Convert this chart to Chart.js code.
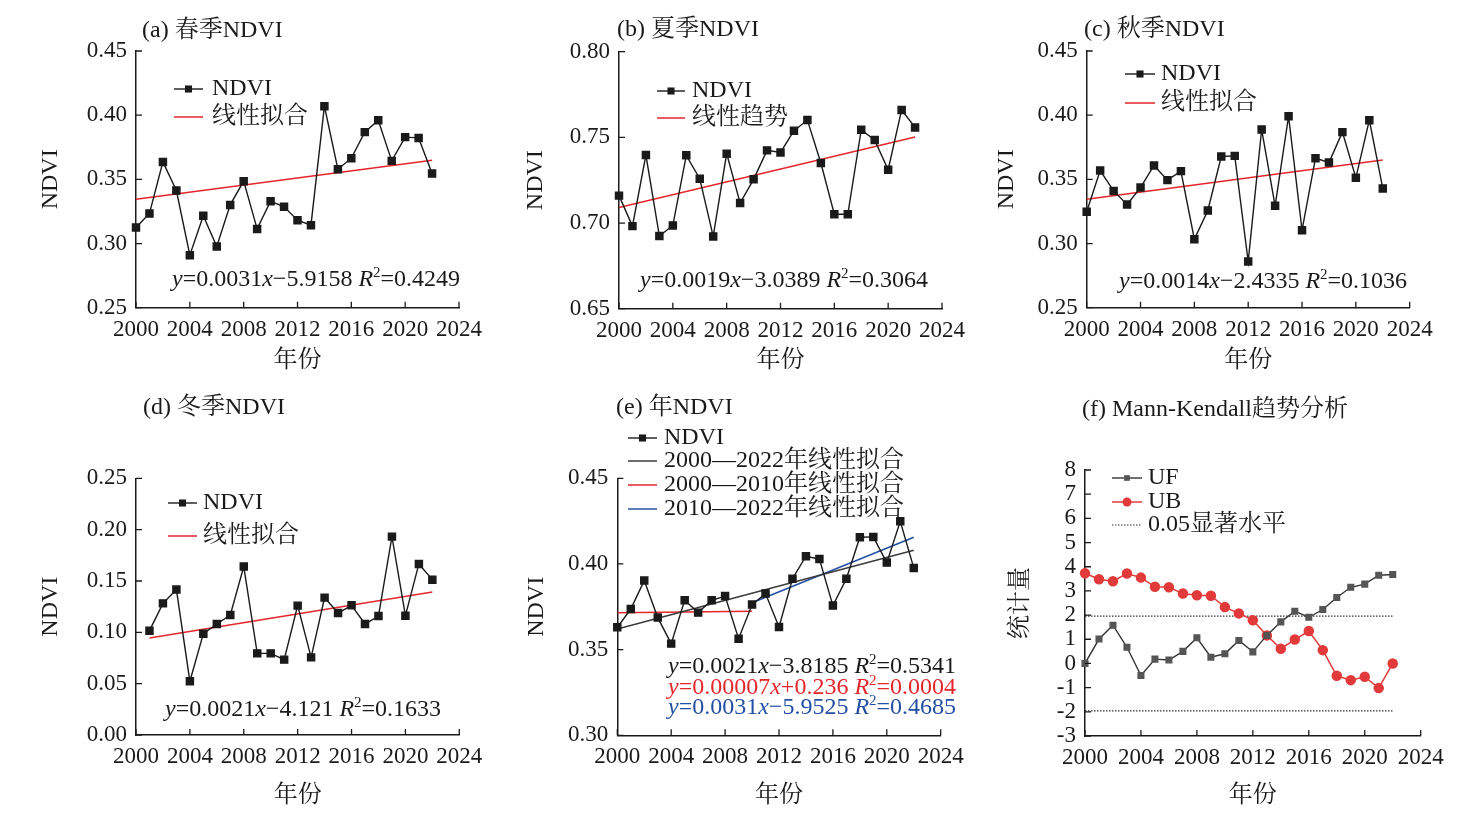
<!DOCTYPE html>
<html>
<head>
<meta charset="utf-8">
<script src="https://cdn.jsdelivr.net/npm/chart.js@4.4.1/dist/chart.umd.min.js"></script>
<style>
  body { margin: 0; background: #fff; width: 1473px; height: 832px; position: relative; overflow: hidden; }
  .cell { position: absolute; }
</style>
</head>
<body>
<div class="cell" style="left:0px;top:0px;width:490px;height:390px"><canvas id="chartSpring"></canvas></div>
<div class="cell" style="left:490px;top:0px;width:485px;height:390px"><canvas id="chartSummer"></canvas></div>
<div class="cell" style="left:975px;top:0px;width:498px;height:390px"><canvas id="chartAutumn"></canvas></div>
<div class="cell" style="left:0px;top:390px;width:490px;height:442px"><canvas id="chartWinter"></canvas></div>
<div class="cell" style="left:490px;top:390px;width:485px;height:442px"><canvas id="chartAnnual"></canvas></div>
<div class="cell" style="left:975px;top:390px;width:498px;height:442px"><canvas id="chartMK"></canvas></div>
<script>
// dados
const years = [2000, 2001, 2002, 2003, 2004, 2005, 2006, 2007, 2008, 2009, 2010, 2011,
               2012, 2013, 2014, 2015, 2016, 2017, 2018, 2019, 2020, 2021, 2022];
const yearsWinter = [2001, 2002, 2003, 2004, 2005, 2006, 2007, 2008, 2009, 2010, 2011,
                     2012, 2013, 2014, 2015, 2016, 2017, 2018, 2019, 2020, 2021, 2022];
const xTicks = [2000, 2004, 2008, 2012, 2016, 2020, 2024];

const ndviSpring = [0.3125, 0.3234, 0.3636, 0.3413, 0.2909, 0.3216, 0.2977, 0.3301, 0.3486, 0.3114, 0.3330, 0.3286,
                    0.3182, 0.3143, 0.4070, 0.3579, 0.3665, 0.3868, 0.3961, 0.3644, 0.3829, 0.3823, 0.3545];
const ndviSummer = [0.7160, 0.6982, 0.7397, 0.6924, 0.6986, 0.7395, 0.7259, 0.6922, 0.7405, 0.7117, 0.7255, 0.7424,
                    0.7412, 0.7539, 0.7601, 0.7350, 0.7051, 0.7051, 0.7545, 0.7484, 0.7311, 0.7660, 0.7558];
const ndviAutumn = [0.3247, 0.3569, 0.3410, 0.3304, 0.3436, 0.3608, 0.3494, 0.3564, 0.3034, 0.3257, 0.3678, 0.3683,
                    0.2860, 0.3888, 0.3294, 0.3992, 0.3104, 0.3665, 0.3631, 0.3868, 0.3512, 0.3961, 0.3429];
const ndviWinter = [0.1016, 0.1282, 0.1416, 0.0523, 0.0987, 0.1081, 0.1169, 0.1640, 0.0795, 0.0795, 0.0734,
                    0.1260, 0.0756, 0.1338, 0.1188, 0.1263, 0.1081, 0.1159, 0.1932, 0.1162, 0.1666, 0.1513];
const ndviAnnual = [0.3630, 0.3737, 0.3903, 0.3687, 0.3535, 0.3788, 0.3716, 0.3788, 0.3813, 0.3564, 0.3763, 0.3827,
                    0.3632, 0.3914, 0.4045, 0.4029, 0.3757, 0.3914, 0.4156, 0.4158, 0.4008, 0.4249, 0.3977];
const mkUF = [0, 1.01, 1.58, 0.67, -0.50, 0.18, 0.14, 0.50, 1.06, 0.26, 0.40, 0.95,
              0.48, 1.16, 1.72, 2.16, 1.91, 2.23, 2.73, 3.15, 3.28, 3.65, 3.68];
const mkUB = [3.73, 3.48, 3.40, 3.72, 3.55, 3.17, 3.15, 2.89, 2.82, 2.80, 2.33, 2.07,
              1.79, 1.16, 0.61, 0.99, 1.34, 0.55, -0.51, -0.69, -0.55, -1.02, 0];

// retas de ajuste (extremos)
const fitSpringX = [2000, 2022], fitSpringY = [0.3345, 0.3649];
const fitSummerX = [2000, 2022], fitSummerY = [0.7091, 0.7502];
const fitAutumnX = [2000, 2022], fitAutumnY = [0.3345, 0.3650];
const fitWinterX = [2001, 2022], fitWinterY = [0.0945, 0.1393];
const fitAllX = [2000, 2022], fitAllY = [0.3621, 0.4080];
const fitEarlyX = [2000, 2010], fitEarlyY = [0.3716, 0.3724];
const fitLateX = [2010, 2022], fitLateY = [0.3774, 0.4156];
const sigX = [2000, 2022], sigUp = [1.96, 1.96], sigDown = [-1.96, -1.96];

const yTicksSpring = [0.25, 0.30, 0.35, 0.40, 0.45];
const yTicksSummer = [0.65, 0.70, 0.75, 0.80];
const yTicksWinter = [0.00, 0.05, 0.10, 0.15, 0.20, 0.25];
const yTicksAnnual = [0.30, 0.35, 0.40, 0.45];
const yTicksMK = [-3, -2, -1, 0, 1, 2, 3, 4, 5, 6, 7, 8];

const FONT = "'Liberation Serif', 'Noto Serif CJK SC', 'Noto Sans CJK SC', serif";
const INK = '#1a1a1a';
const RED = '#e5262b';
const BLUE = '#2350a3';
const TXT = 24;
Chart.defaults.font.family = FONT;
Chart.defaults.color = INK;

function pts(xs, ys) {
    return xs.map((x, i) => ({ x: x, y: ys[i] }));
}

function eqParts(a, b, r2) {
    return [['y', 'i'], ['=' + a, 'n'], ['x', 'i'], [b + ' ', 'n'], ['R', 'i'], ['2', 's'], ['=' + r2, 'n']];
}

function ndviSerie(xs, ys) {
    return { label: 'NDVI', data: pts(xs, ys), borderColor: INK, borderWidth: 1.4,
             pointStyle: 'rect', pointRadius: 5, pointBackgroundColor: INK, pointBorderColor: INK };
}

function fitSerie(label, xs, ys, color) {
    return { label: label, data: pts(xs, ys), borderColor: color, borderWidth: 1.5, pointRadius: 0 };
}

function deco(p) {
    return {
        id: 'deco',
        afterDraw(chart) {
            const ctx = chart.ctx;
            const a = chart.chartArea;
            const ox = p.cell.x, oy = p.cell.y;
            const xs = chart.scales.x, ys = chart.scales.y;
            ctx.save();

            // ticks para dentro
            ctx.strokeStyle = INK;
            ctx.lineWidth = 1.3;
            ctx.beginPath();
            xs.ticks.forEach(t => {
                const px = xs.getPixelForValue(t.value);
                ctx.moveTo(px, a.bottom);
                ctx.lineTo(px, a.bottom - 6);
            });
            ys.ticks.forEach(t => {
                const py = ys.getPixelForValue(t.value);
                ctx.moveTo(a.left, py);
                ctx.lineTo(a.left + 6, py);
            });
            ctx.stroke();

            ctx.textBaseline = 'middle';
            ctx.textAlign = 'left';
            ctx.fillStyle = INK;
            ctx.font = TXT + 'px ' + FONT;
            ctx.fillText(p.title.text, p.title.x - ox, p.title.y - oy);

            // legenda
            const lg = p.legend;
            lg.items.forEach((idx, i) => {
                const ds = chart.data.datasets[idx];
                const y = lg.rows[i] - oy, x1 = lg.x1 - ox, x2 = lg.x2 - ox;
                ctx.strokeStyle = ds.borderColor;
                ctx.lineWidth = ds.borderWidth;
                ctx.setLineDash(ds.borderDash || []);
                ctx.beginPath();
                ctx.moveTo(x1, y);
                ctx.lineTo(x2, y);
                ctx.stroke();
                ctx.setLineDash([]);
                const cx = (x1 + x2) / 2;
                if (ds.pointRadius && ds.pointStyle === 'rect') {
                    const s = ds.pointRadius * Math.SQRT2;
                    ctx.fillStyle = ds.pointBackgroundColor;
                    ctx.fillRect(cx - s / 2, y - s / 2, s, s);
                } else if (ds.pointRadius) {
                    ctx.fillStyle = ds.pointBackgroundColor;
                    ctx.beginPath();
                    ctx.arc(cx, y, ds.pointRadius, 0, Math.PI * 2);
                    ctx.fill();
                }
                ctx.fillStyle = INK;
                ctx.font = TXT + 'px ' + FONT;
                ctx.fillText(ds.label, lg.tx - ox, y);
            });

            // equacoes
            p.eqs.forEach(e => {
                let x = e.x - ox;
                const y = e.y - oy;
                ctx.fillStyle = e.color;
                e.parts.forEach(([t, k]) => {
                    if (k === 's') {
                        ctx.font = '15px ' + FONT;
                        ctx.fillText(t, x, y - 7);
                    } else {
                        ctx.font = (k === 'i' ? 'italic ' : '') + TXT + 'px ' + FONT;
                        ctx.fillText(t, x, y);
                    }
                    x += ctx.measureText(t).width;
                });
            });
            ctx.restore();
        }
    };
}

function makePanel(id, p) {
    const cell = p.cell, area = p.area;
    p.series.forEach(s => { s.tension = 0; s.fill = false; s.clip = false; });
    new Chart(document.getElementById(id), {
        type: 'line',
        data: { datasets: p.series },
        options: {
            responsive: true,
            maintainAspectRatio: false,
            animation: false,
            events: [],
            layout: { padding: { left: 0, top: area.t - cell.y, right: cell.x + cell.w - area.r, bottom: 0 } },
            plugins: { legend: { display: false }, tooltip: { enabled: false } },
            scales: {
                x: {
                    type: 'linear',
                    min: xTicks[0],
                    max: xTicks[xTicks.length - 1],
                    afterBuildTicks: s => { s.ticks = xTicks.map(v => ({ value: v })); },
                    afterFit: s => { s.height = cell.y + cell.h - area.b; },
                    grid: { display: false },
                    border: { color: INK, width: 1.5 },
                    ticks: { font: { size: 23 }, color: INK, padding: 0, maxRotation: 0, autoSkip: false,
                             callback: v => String(v) },
                    title: { display: true, text: '年份', color: INK, font: { size: TXT },
                             padding: { top: 0, bottom: cell.y + cell.h - p.xTitleY - 18.5 } }
                },
                y: {
                    type: 'linear',
                    min: p.yTicks[0],
                    max: p.yTicks[p.yTicks.length - 1],
                    afterBuildTicks: s => { s.ticks = p.yTicks.map(v => ({ value: v })); },
                    afterFit: s => { s.width = area.l - cell.x; },
                    grid: { display: false },
                    border: { color: INK, width: 1.5 },
                    ticks: { font: { size: 23 }, color: INK, padding: 1, autoSkip: false,
                             callback: v => v.toFixed(p.dec) },
                    title: { display: true, text: p.yTitle, color: INK, font: { size: TXT },
                             padding: { top: p.yTitleX - cell.x - 14.4, bottom: 0 } }
                }
            }
        },
        plugins: [deco(p)]
    });
}

makePanel('chartSpring', {
    cell: { x: 0, y: 0, w: 490, h: 390 },
    area: { l: 136, t: 51, r: 459, b: 307.7 },
    yTicks: yTicksSpring, dec: 2, yTitle: 'NDVI', yTitleX: 51, xTitleY: 357,
    title: { text: '(a) 春季NDVI', x: 142, y: 31 },
    series: [ndviSerie(years, ndviSpring), fitSerie('线性拟合', fitSpringX, fitSpringY, RED)],
    legend: { items: [0, 1], x1: 174, x2: 203, tx: 212, rows: [89, 117] },
    eqs: [{ x: 172, y: 280, color: INK, parts: eqParts('0.0031', '−5.9158', '0.4249') }]
});

makePanel('chartSummer', {
    cell: { x: 490, y: 0, w: 485, h: 390 },
    area: { l: 619, t: 51.7, r: 942, b: 308.7 },
    yTicks: yTicksSummer, dec: 2, yTitle: 'NDVI', yTitleX: 536, xTitleY: 357,
    title: { text: '(b) 夏季NDVI', x: 617, y: 30 },
    series: [ndviSerie(years, ndviSummer), fitSerie('线性趋势', fitSummerX, fitSummerY, RED)],
    legend: { items: [0, 1], x1: 657, x2: 685, tx: 692, rows: [91, 118] },
    eqs: [{ x: 640, y: 281, color: INK, parts: eqParts('0.0019', '−3.0389', '0.3064') }]
});

makePanel('chartAutumn', {
    cell: { x: 975, y: 0, w: 498, h: 390 },
    area: { l: 1086.7, t: 51, r: 1409.7, b: 307.7 },
    yTicks: yTicksSpring, dec: 2, yTitle: 'NDVI', yTitleX: 1007, xTitleY: 357,
    title: { text: '(c) 秋季NDVI', x: 1084, y: 30 },
    series: [ndviSerie(years, ndviAutumn), fitSerie('线性拟合', fitAutumnX, fitAutumnY, RED)],
    legend: { items: [0, 1], x1: 1125, x2: 1155, tx: 1161, rows: [74, 103] },
    eqs: [{ x: 1119, y: 282, color: INK, parts: eqParts('0.0014', '−2.4335', '0.1036') }]
});

makePanel('chartWinter', {
    cell: { x: 0, y: 390, w: 490, h: 442 },
    area: { l: 136, t: 478.3, r: 459.3, b: 735 },
    yTicks: yTicksWinter, dec: 2, yTitle: 'NDVI', yTitleX: 51, xTitleY: 792,
    title: { text: '(d) 冬季NDVI', x: 143, y: 408 },
    series: [ndviSerie(yearsWinter, ndviWinter), fitSerie('线性拟合', fitWinterX, fitWinterY, RED)],
    legend: { items: [0, 1], x1: 168, x2: 197, tx: 203, rows: [503, 536] },
    eqs: [{ x: 165, y: 710, color: INK, parts: eqParts('0.0021', '−4.121', '0.1633') }]
});

makePanel('chartAnnual', {
    cell: { x: 490, y: 390, w: 485, h: 442 },
    area: { l: 617.3, t: 478.3, r: 940.7, b: 735.3 },
    yTicks: yTicksAnnual, dec: 2, yTitle: 'NDVI', yTitleX: 537, xTitleY: 792,
    title: { text: '(e) 年NDVI', x: 616, y: 408 },
    series: [
        ndviSerie(years, ndviAnnual),
        fitSerie('2000—2022年线性拟合', fitAllX, fitAllY, '#3b3b3b'),
        fitSerie('2000—2010年线性拟合', fitEarlyX, fitEarlyY, RED),
        fitSerie('2010—2022年线性拟合', fitLateX, fitLateY, BLUE)
    ],
    legend: { items: [0, 1, 2, 3], x1: 628, x2: 657, tx: 664, rows: [438, 461, 485, 509] },
    eqs: [
        { x: 668, y: 667, color: INK, parts: eqParts('0.0021', '−3.8185', '0.5341') },
        { x: 668, y: 688, color: RED, parts: eqParts('0.00007', '+0.236', '0.0004') },
        { x: 668, y: 708, color: BLUE, parts: eqParts('0.0031', '−5.9525', '0.4685') }
    ]
});

makePanel('chartMK', {
    cell: { x: 975, y: 390, w: 498, h: 442 },
    area: { l: 1085, t: 470, r: 1420.7, b: 736 },
    yTicks: yTicksMK, dec: 0, yTitle: '统计量', yTitleX: 1021, xTitleY: 792,
    title: { text: '(f) Mann-Kendall趋势分析', x: 1082, y: 410 },
    series: [
        { label: 'UF', data: pts(years, mkUF), borderColor: '#333333', borderWidth: 1.4,
          pointStyle: 'rect', pointRadius: 4, pointBackgroundColor: '#555555', pointBorderColor: '#555555' },
        { label: 'UB', data: pts(years, mkUB), borderColor: '#e23a3a', borderWidth: 1.5,
          pointStyle: 'circle', pointRadius: 4.5, pointBackgroundColor: '#e23a3a', pointBorderColor: '#e23a3a' },
        { label: '0.05显著水平', data: pts(sigX, sigUp), borderColor: '#333333', borderWidth: 1.2,
          borderDash: [1.5, 1.5], pointRadius: 0 },
        { label: '0.05显著水平', data: pts(sigX, sigDown), borderColor: '#333333', borderWidth: 1.2,
          borderDash: [1.5, 1.5], pointRadius: 0 }
    ],
    legend: { items: [0, 1, 2], x1: 1112, x2: 1142, tx: 1148, rows: [478, 502, 525] },
    eqs: []
});
</script>
</body>
</html>
